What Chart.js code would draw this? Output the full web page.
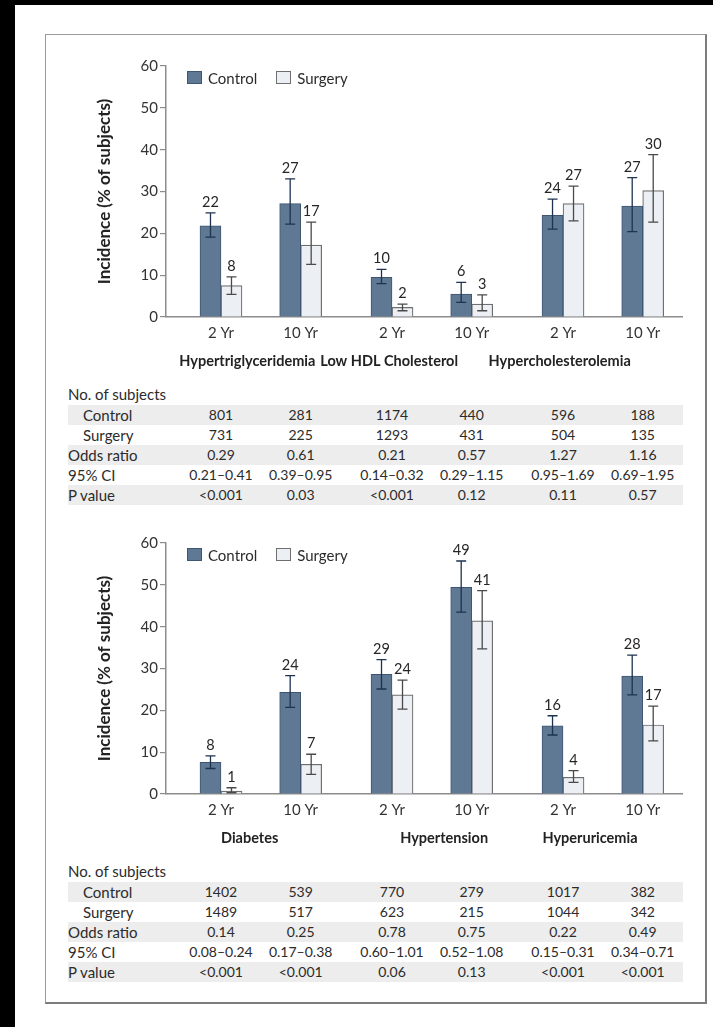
<!DOCTYPE html>
<html>
<head>
<meta charset="utf-8">
<script src="https://cdn.jsdelivr.net/npm/chart.js@4.4.1/dist/chart.umd.min.js"></script>
<style>
  html, body { margin: 0; padding: 0; background: #fff; }
  #page { position: relative; width: 713px; height: 1027px; background: #fff; overflow: hidden;
          font-family: Lato, sans-serif; color: #2b2b2b; }
  .edge-left { position: absolute; left: 0; top: 0; width: 15px; height: 1027px; background: #000; }
  .edge-top { position: absolute; left: 0; top: 0; width: 713px; height: 5px; background: #000; }
  #frame { position: absolute; left: 45px; top: 34px; width: 659px; height: 967px;
           border-left: 1px solid #9a9a9a; border-top: 1px solid #9a9a9a;
           border-right: 2px solid #7c7c7c; border-bottom: 2px solid #7c7c7c; }
  canvas { position: absolute; }
  .legend-item { position: absolute; font-size: 15px; line-height: 14px; white-space: nowrap; color: #2b2b2b; }
  .legend-box { position: absolute; width: 15px; height: 13px; box-sizing: border-box; }
  .txt { position: absolute; white-space: nowrap; line-height: 20px; }
  .label { font-size: 15px; }
  .cell { font-size: 14px; transform: translateX(-50%); }
  .shade { position: absolute; left: 68px; width: 615px; height: 20px; background: #ededed; }
</style>
</head>
<body>
<div id="page">
  <div class="edge-left"></div>
  <div class="edge-top"></div>
  <div id="frame"></div>
</div>
<script>
// ---- data ----
const seriesNames = ['Control', 'Surgery'];
const yearLabels = ['2 Yr', '10 Yr'];
const yTicks = [0, 10, 20, 30, 40, 50, 60];
const rowLabels = ['Control', 'Surgery', 'Odds ratio', '95% CI', 'P value'];

// top panel
const topGroups = ['Hypertriglyceridemia', 'Low HDL Cholesterol', 'Hypercholesterolemia'];
const topControl = [21.8, 27.1, 9.5, 5.5, 24.3, 26.5];
const topControlLow = [19.1, 22.2, 8.0, 3.5, 21.0, 20.4];
const topControlHigh = [24.9, 33.0, 11.4, 8.3, 28.2, 33.3];
const topSurgery = [7.5, 17.2, 2.3, 3.1, 27.1, 30.2];
const topSurgeryLow = [5.4, 12.6, 1.5, 1.5, 23.0, 22.7];
const topSurgeryHigh = [9.6, 22.7, 3.1, 5.3, 31.3, 38.8];
const topNControl = ['801', '281', '1174', '440', '596', '188'];
const topNSurgery = ['731', '225', '1293', '431', '504', '135'];
const topOdds = ['0.29', '0.61', '0.21', '0.57', '1.27', '1.16'];
const topCI = ['0.21–0.41', '0.39–0.95', '0.14–0.32', '0.29–1.15', '0.95–1.69', '0.69–1.95'];
const topP = ['<0.001', '0.03', '<0.001', '0.12', '0.11', '0.57'];

// bottom panel
const botGroups = ['Diabetes', 'Hypertension', 'Hyperuricemia'];
const botControl = [7.6, 24.3, 28.6, 49.4, 16.3, 28.2];
const botControlLow = [6.1, 20.7, 25.1, 43.5, 14.1, 23.7];
const botControlHigh = [9.1, 28.3, 32.1, 55.7, 18.7, 33.2];
const botSurgery = [0.7, 7.1, 23.7, 41.4, 4.0, 16.5];
const botSurgeryLow = [0.3, 4.7, 20.3, 34.7, 2.8, 12.7];
const botSurgeryHigh = [1.5, 9.5, 27.2, 48.6, 5.6, 21.0];
const botNControl = ['1402', '539', '770', '279', '1017', '382'];
const botNSurgery = ['1489', '517', '623', '215', '1044', '342'];
const botOdds = ['0.14', '0.25', '0.78', '0.75', '0.22', '0.49'];
const botCI = ['0.08–0.24', '0.17–0.38', '0.60–1.01', '0.52–1.08', '0.15–0.31', '0.34–0.71'];
const botP = ['<0.001', '<0.001', '0.06', '0.13', '<0.001', '<0.001'];

// ---- layout / style ----
const groupGap = 0.146;           // extra space between disorder pairs (in year units)
const xMin = -0.69, xMax = 5.785;
// where the disorder names sit along the x axis (they are not exactly centred in the original)
const topGroupAnchor = [0.33, 2.11, 4.25];
const botGroupAnchor = [0.36, 2.8, 4.63];
const panelStep = 477;
const canvasLeft = 46, canvasTop = 35, canvasW = 659, canvasH = 345;
const axisColor = '#8c8c8c';
const style = {
    control: { fill: '#5f7893', border: '#3f5673', err: '#1d3350' },
    surgery: { fill: '#eceff3', border: '#6f6f6f', err: '#4a4a4a' }
};

const barPos = topControl.map((_, i) => Math.floor(i / 2) * (2 + groupGap) + i % 2);

Chart.defaults.font.family = 'Lato, sans-serif';
Chart.defaults.color = '#2b2b2b';

// error bars + value labels on top of each bar
const errorBars = {
    id: 'errorBars',
    afterDatasetsDraw(chart) {
        const { ctx, scales: { y } } = chart;
        chart.data.datasets.forEach((ds, di) => {
            const meta = chart.getDatasetMeta(di);
            meta.data.forEach((bar, i) => {
                const top = y.getPixelForValue(ds.errHigh[i]);
                const bot = y.getPixelForValue(ds.errLow[i]);
                ctx.save();
                ctx.strokeStyle = ds.errColor;
                ctx.lineWidth = 1.3;
                ctx.beginPath();
                ctx.moveTo(bar.x, top); ctx.lineTo(bar.x, bot);
                ctx.moveTo(bar.x - 5, top); ctx.lineTo(bar.x + 5, top);
                ctx.moveTo(bar.x - 5, bot); ctx.lineTo(bar.x + 5, bot);
                ctx.stroke();
                ctx.fillStyle = '#262626';
                ctx.font = '14.5px Lato, sans-serif';
                ctx.textAlign = 'center';
                ctx.textBaseline = 'alphabetic';
                ctx.fillText(String(Math.round(ds.data[i].y)), bar.x, top - 6);
                ctx.restore();
            });
        });
    }
};

function addText(page, cls, text, left, top) {
    const el = document.createElement('div');
    el.className = 'txt ' + cls;
    el.textContent = text;
    el.style.left = left + 'px';
    el.style.top = top + 'px';
    page.appendChild(el);
    return el;
}

function makePanel(p) {
    const page = document.getElementById('page');
    const off = p.index * panelStep;

    const canvas = document.createElement('canvas');
    canvas.width = canvasW;
    canvas.height = canvasH;
    canvas.style.left = canvasLeft + 'px';
    canvas.style.top = (canvasTop + off) + 'px';
    page.appendChild(canvas);

    const toPoints = arr => arr.map((v, i) => ({ x: barPos[i], y: v }));

    const chart = new Chart(canvas, {
        type: 'bar',
        data: {
            datasets: [
                {
                    label: seriesNames[0],
                    data: toPoints(p.control),
                    errLow: p.controlLow, errHigh: p.controlHigh, errColor: style.control.err,
                    backgroundColor: style.control.fill,
                    borderColor: style.control.border,
                    borderWidth: 1,
                    barThickness: 21
                },
                {
                    label: seriesNames[1],
                    data: toPoints(p.surgery),
                    errLow: p.surgeryLow, errHigh: p.surgeryHigh, errColor: style.surgery.err,
                    backgroundColor: style.surgery.fill,
                    borderColor: style.surgery.border,
                    borderWidth: 1.2,
                    barThickness: 21
                }
            ]
        },
        options: {
            responsive: false,
            animation: false,
            layout: { padding: { left: 0, right: 23, top: 31, bottom: 3 } },
            plugins: { legend: { display: false }, tooltip: { enabled: false } },
            scales: {
                x: {
                    type: 'linear', min: xMin, max: xMax, offset: false, weight: 0,
                    grid: { display: false, drawTicks: false, offset: false },
                    border: { color: axisColor, width: 1.5 },
                    afterBuildTicks: s => { s.ticks = barPos.map(v => ({ value: v })); },
                    ticks: {
                        autoSkip: false, maxRotation: 0, padding: 7,
                        font: { size: 15 }, color: '#333',
                        callback: (v, i) => yearLabels[i % 2]
                    },
                    afterFit: s => { s.height = 30; }
                },
                xg: {
                    type: 'linear', position: 'bottom', min: xMin, max: xMax, offset: false, weight: 1,
                    grid: { display: false, drawTicks: false },
                    border: { display: false },
                    afterBuildTicks: s => { s.ticks = p.anchors.map(v => ({ value: v })); },
                    ticks: {
                        autoSkip: false, maxRotation: 0, padding: 6,
                        font: { size: 14.5, weight: 'bold' }, color: '#222',
                        callback: (v, i) => p.groups[i]
                    },
                    afterFit: s => { s.height = 30; }
                },
                y: {
                    min: 0, max: 60,
                    afterBuildTicks: s => { s.ticks = yTicks.map(v => ({ value: v })); },
                    ticks: { font: { size: 15 }, color: '#333', padding: 2 },
                    grid: { drawOnChartArea: false, drawTicks: true, tickLength: 6, color: axisColor, lineWidth: 1.2 },
                    border: { color: axisColor, width: 1.5 },
                    title: {
                        display: true, text: 'Incidence (% of subjects)', color: '#222',
                        font: { size: 17, weight: 'bold' }, padding: { top: 48, bottom: 0 }
                    },
                    afterFit: s => { s.width = 120; }
                }
            }
        },
        plugins: [errorBars]
    });

    // legend
    const area = chart.chartArea;
    const legendTop = canvasTop + off + area.top + 4.5;
    let lx = canvasLeft + area.left + 21;
    chart.data.datasets.forEach(ds => {
        const item = document.createElement('div');
        item.className = 'legend-item';
        item.style.left = lx + 'px';
        item.style.top = legendTop + 'px';
        const box = document.createElement('div');
        box.className = 'legend-box';
        box.style.background = ds.backgroundColor;
        box.style.border = '1px solid ' + ds.borderColor;
        item.appendChild(box);
        const t = document.createElement('span');
        t.textContent = ds.label;
        t.style.marginLeft = '21px';
        item.appendChild(t);
        page.appendChild(item);
        lx += item.getBoundingClientRect().width + 19;
    });

    // table below the chart
    const tTop = 384 + off;
    addText(page, 'label', 'No. of subjects', 68, tTop);
    const rows = [p.nControl, p.nSurgery, p.odds, p.ci, p.pval];
    const colX = barPos.map(v => canvasLeft + chart.scales.x.getPixelForValue(v));
    rows.forEach((vals, r) => {
        const rowTop = tTop + 21 + r * 20;
        if (r % 2 === 0) {
            const sh = document.createElement('div');
            sh.className = 'shade';
            sh.style.top = rowTop + 'px';
            page.appendChild(sh);
        }
        addText(page, 'label', rowLabels[r], r < 2 ? 83 : 68, rowTop);
        vals.forEach((v, c) => addText(page, 'cell', v, colX[c], rowTop));
    });
}

makePanel({
    index: 0, groups: topGroups, anchors: topGroupAnchor,
    control: topControl, controlLow: topControlLow, controlHigh: topControlHigh,
    surgery: topSurgery, surgeryLow: topSurgeryLow, surgeryHigh: topSurgeryHigh,
    nControl: topNControl, nSurgery: topNSurgery, odds: topOdds, ci: topCI, pval: topP
});
makePanel({
    index: 1, groups: botGroups, anchors: botGroupAnchor,
    control: botControl, controlLow: botControlLow, controlHigh: botControlHigh,
    surgery: botSurgery, surgeryLow: botSurgeryLow, surgeryHigh: botSurgeryHigh,
    nControl: botNControl, nSurgery: botNSurgery, odds: botOdds, ci: botCI, pval: botP
});
</script>
</body>
</html>
